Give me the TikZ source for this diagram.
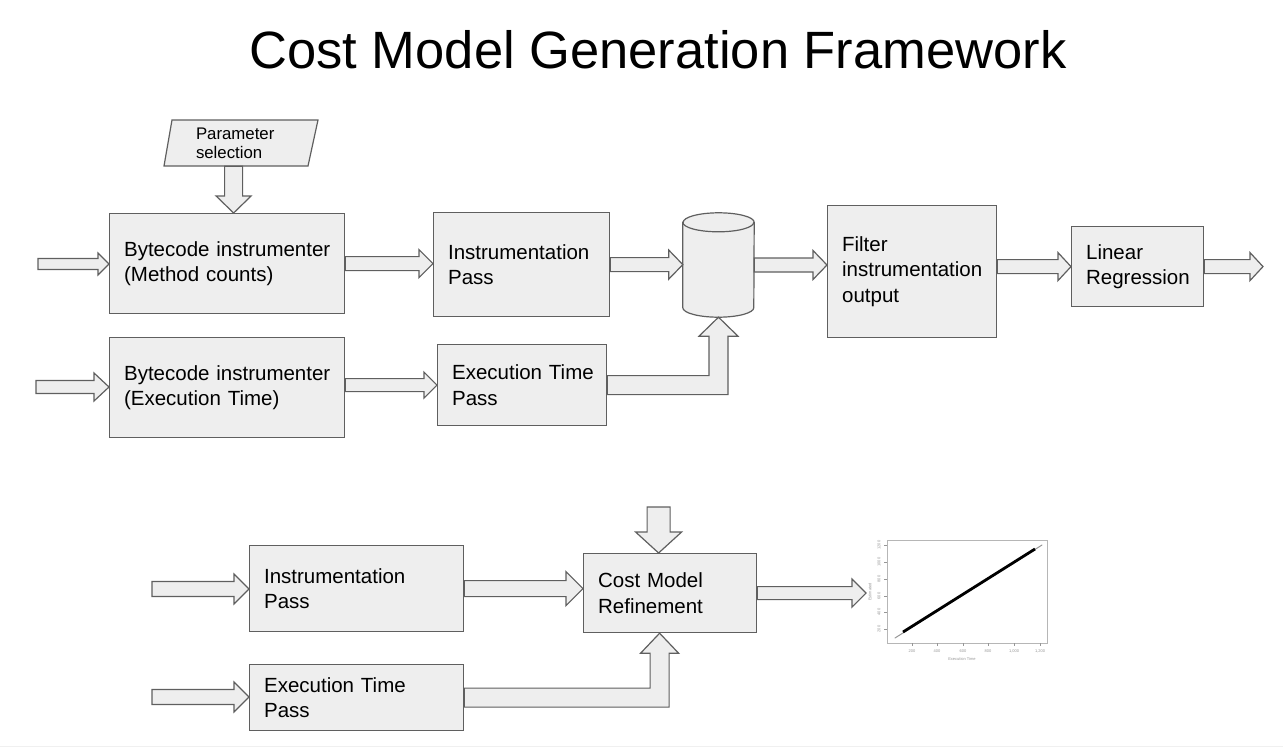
\documentclass[tikz,border=0pt]{standalone}
\usepackage{fontspec}
\setmainfont{Liberation Sans}
\usetikzlibrary{calc}
\definecolor{boxfill}{RGB}{238,238,238}
\definecolor{boxdraw}{RGB}{95,95,95}
\definecolor{plotgray}{RGB}{150,150,150}

\tikzset{
  box/.style = {draw = boxdraw, fill = boxfill, line width = 1.2pt, align = left,
    inner xsep = 14.5pt, inner ysep = 0pt, anchor = north west,
    font = \fontsize{20.5}{25.5}\selectfont},
  barrow/.style = {draw = boxdraw, fill = boxfill, line width = 1.2pt},
  ticklbl/.style = {font = \fontsize{4}{5}\selectfont, text = plotgray, inner sep = 0.5pt}
}

% block arrow, left to right: from, to, shaft half width, head half width, head length
\newcommand{\harrow}[5]{%
  \draw[barrow] let \p1 = #1, \p2 = #2 in
    (\x1,\y1+#3pt) -- (\x2-#5pt,\y1+#3pt) -- (\x2-#5pt,\y1+#4pt) -- (\x2,\y1)
    -- (\x2-#5pt,\y1-#4pt) -- (\x2-#5pt,\y1-#3pt) -- (\x1,\y1-#3pt) -- cycle;}
% block arrow, right then up
\newcommand{\elarrow}[5]{%
  \draw[barrow] let \p1 = #1, \p2 = #2 in
    (\x1,\y1+#3pt) -- (\x2-#3pt,\y1+#3pt) -- (\x2-#3pt,\y2-#5pt) -- (\x2-#4pt,\y2-#5pt)
    -- (\x2,\y2) -- (\x2+#4pt,\y2-#5pt) -- (\x2+#3pt,\y2-#5pt) -- (\x2+#3pt,\y1-#3pt)
    -- (\x1,\y1-#3pt) -- cycle;}
% block arrow, downwards
\newcommand{\darrow}[5]{%
  \draw[barrow] let \p1 = #1, \p2 = #2 in
    (\x2-#3pt,\y1) -- (\x2-#3pt,\y2+#5pt) -- (\x2-#4pt,\y2+#5pt) -- (\x2,\y2)
    -- (\x2+#4pt,\y2+#5pt) -- (\x2+#3pt,\y2+#5pt) -- (\x2+#3pt,\y1) -- cycle;}

\begin{document}
\begin{tikzpicture}[x = 1pt, y = -1pt]
  \useasboundingbox (0,0) rectangle (1283,747);
  \draw[black!6, line width = 1pt] (0,746) -- (1283,746);

  \node (title) at (658,68) [anchor = base, font = \fontsize{52.5}{60}\selectfont] {Cost Model Generation Framework};

  % top flow
  \draw[barrow] (172,120) -- (318,120) -- (308,166) -- (164,166) -- cycle;
  \node (par) at (240,143) [text width = 88pt, minimum height = 46pt, inner sep = 0pt, align = left,
    font = \fontsize{16.8}{19}\selectfont] {Parameter\\selection};

  \node (bca) at (109,213) [box, text width = 206, minimum height = 100] {\mbox{Bytecode instrumenter}\\(Method counts)};
  \node (ipa) at (433,212) [box, text width = 147, minimum height = 104] {Instrumentation\\Pass};
  \node (bcb) at (109,337) [box, text width = 206, minimum height = 100] {\mbox{Bytecode instrumenter}\\(Execution Time)};
  \node (etpa) at (437,344) [box, text width = 140, minimum height = 81] {\mbox{Execution Time}\\Pass};
  \node (fil) at (827,205) [box, text width = 140, minimum height = 132] {Filter\\\mbox{instrumentation}\\output};
  \node (lr) at (1071,226) [box, text width = 103, minimum height = 80] {Linear\\Regression};

  % data store
  \node (db) at (718.5,265) [minimum width = 71, minimum height = 104, inner sep = 0pt] {};
  \draw[barrow] ([yshift = -9.5pt]db.north west) -- ([yshift = 9.5pt]db.south west)
    arc[start angle = 180, end angle = 360, x radius = 35.5pt, y radius = 9.5pt]
    -- ([yshift = -9.5pt]db.north east)
    arc[start angle = 0, end angle = 180, x radius = 35.5pt, y radius = 9.5pt] -- cycle;
  \draw[boxdraw, line width = 1.2pt] ([yshift = -9.5pt]db.north west)
    arc[start angle = 180, end angle = 360, x radius = 35.5pt, y radius = 9.5pt];

  \coordinate (ina) at (38,264);
  \coordinate (inb) at (36,387);
  \coordinate (outa) at (1263,266);

  \darrow{(par.south)}{([xshift = 6.5pt]bca.north)}{9}{17.5}{17}
  \harrow{(ina)}{(ina -| bca.west)}{5.5}{11}{11}
  \harrow{(inb)}{(inb -| bcb.west)}{6.5}{14}{15}
  \harrow{(bca.east)}{(bca.east -| ipa.west)}{7}{14}{14}
  \harrow{(etpa.west -| bcb.east)}{(etpa.west)}{6.5}{13}{13}
  \harrow{(ipa.east)}{(ipa.east -| db.west)}{7}{14.5}{14}
  \harrow{(db.east)}{(db.east -| fil.west)}{7}{14.5}{14}
  \harrow{(lr.west -| fil.east)}{(lr.west)}{7}{14}{13}
  \harrow{(lr.east)}{(outa)}{7}{14}{13}
  \elarrow{(etpa.east)}{(db.south)}{9.5}{19.5}{19}

  % bottom flow
  \node (ipb) at (249,545) [box, text width = 185, minimum height = 86] {Instrumentation\\Pass};
  \node (etpb) at (249,664) [box, text width = 185, minimum height = 66] {\mbox{Execution Time}\\Pass};
  \node (cmr) at (583,553) [box, text width = 144, minimum height = 79] {Cost Model\\Refinement};

  \coordinate (inc) at (152,589);
  \coordinate (ind) at (152,697);
  \coordinate (topc) at (658,507);
  \coordinate (plt) at (866,593);

  \harrow{(inc)}{(inc -| ipb.west)}{7.5}{15}{15}
  \harrow{(ind)}{(ind -| etpb.west)}{7.5}{15}{15}
  \harrow{(ipb.east)}{(ipb.east -| cmr.west)}{8}{17}{17}
  \harrow{(cmr.east)}{(plt)}{6.5}{14}{14}
  \darrow{(topc)}{([xshift = -11.5pt]cmr.north)}{11.5}{23}{21}
  \elarrow{(etpb.east)}{([xshift = -10.5pt]cmr.south)}{9.5}{19}{20}

  % result plot
  \draw[plotgray!70, line width = 0.6pt] (887,540) rectangle (1047,643);
  \foreach \y/\lbl in {629/200, 612/400, 596/600, 579/800, 562/1000, 545/1200} {
    \draw[plotgray, line width = 0.4pt] (887,\y) -- (884,\y);
    \node[ticklbl, rotate = 90] at (879,\y) {\lbl};
  }
  \foreach \x/\lbl in {912/200, 937/400, 963/600, 988/800, 1014/{1,000}, 1040/{1,200}} {
    \draw[plotgray, line width = 0.4pt] (\x,643) -- (\x,646);
    \node[ticklbl] at (\x,651) {\lbl};
  }
  \node[ticklbl] at (962,659) {Execution Time};
  \node[ticklbl, rotate = 90] at (870,592) {Estimated};
  \draw[plotgray, line width = 1pt, line cap = round] (895,638) -- (1042,545);
  \draw[black, line width = 2.8pt] (903,632) -- (1035,549);
\end{tikzpicture}
\end{document}
